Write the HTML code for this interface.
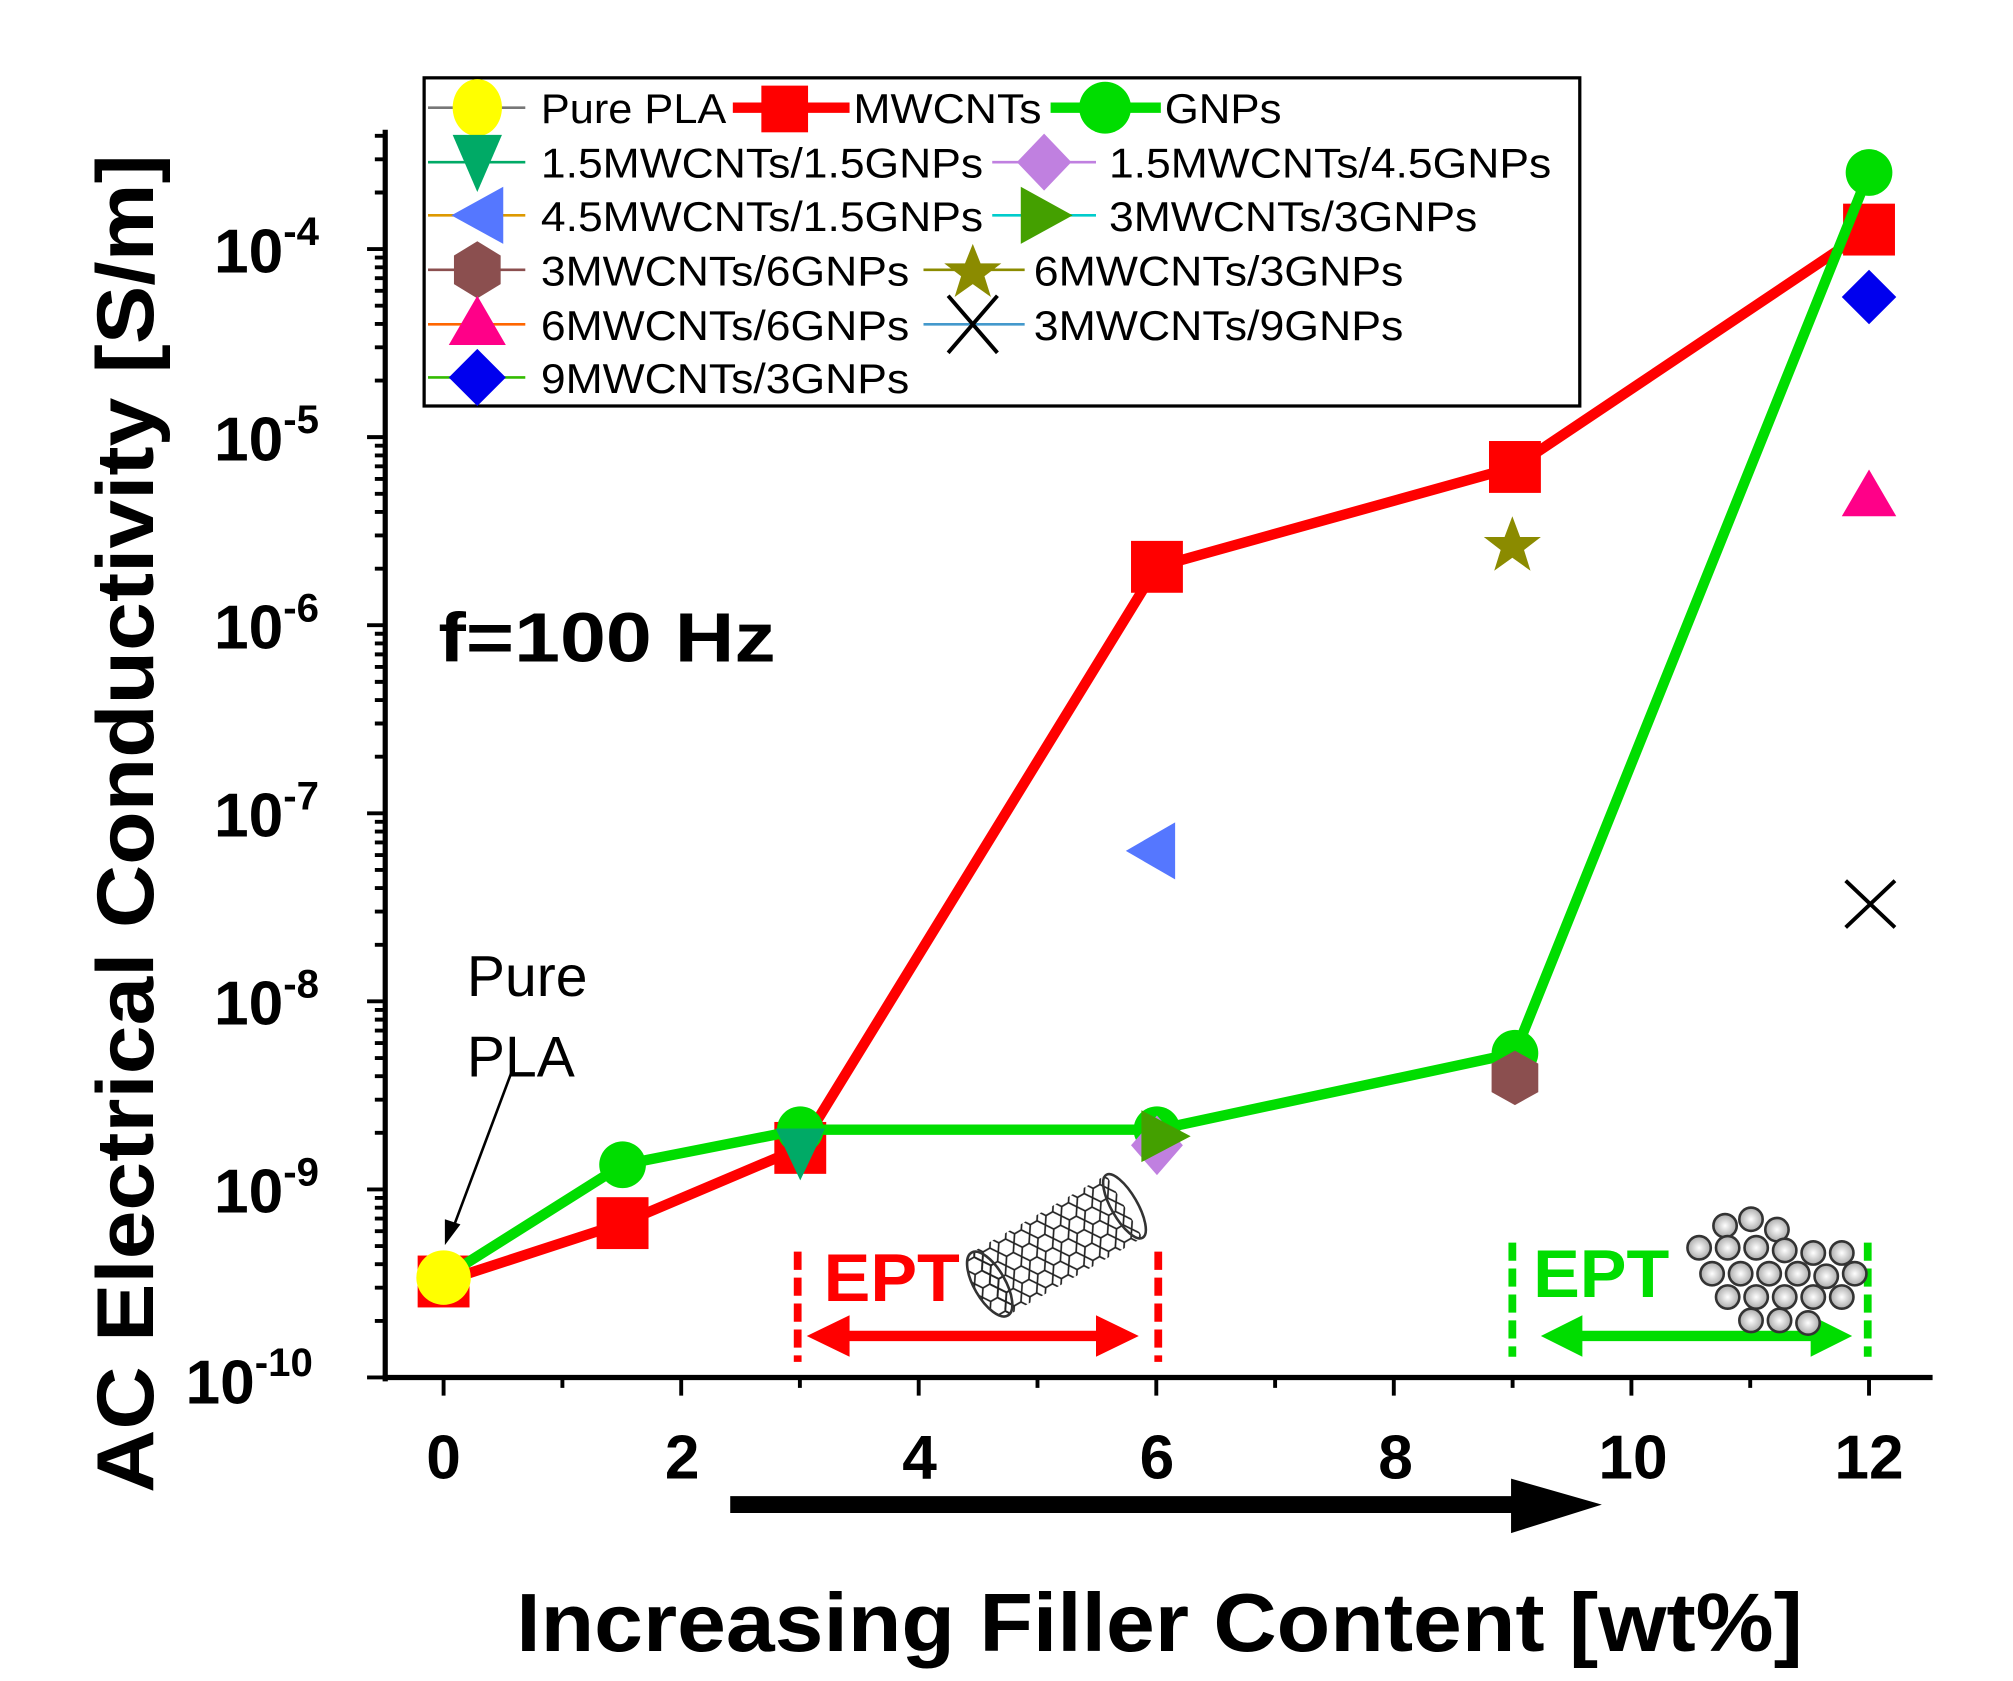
<!DOCTYPE html>
<html><head><meta charset="utf-8"><style>html,body{margin:0;padding:0;background:#fff}svg{display:block}</style></head>
<body>
<svg width="2013" height="1681" viewBox="0 0 1552 1296" xmlns="http://www.w3.org/2000/svg" font-family="Liberation Sans, Arial, sans-serif">
<defs>
<pattern id="hex" width="14" height="12" patternUnits="userSpaceOnUse">
<path d="M0 6 L4 0 L10 0 L14 6 L10 12 L4 12 Z" fill="none" stroke="#222" stroke-width="1.3"/>
</pattern>
<radialGradient id="gb"><stop offset="0" stop-color="#fff"/><stop offset="1" stop-color="#aaa"/></radialGradient>
</defs>
<!-- axes -->
<line x1="297" y1="100" x2="297" y2="1065" stroke="#000" stroke-width="4"/>
<line x1="295" y1="1062" x2="1490" y2="1062" stroke="#000" stroke-width="4"/>
<path stroke="#000" stroke-width="3" fill="none" d="
M283 1062H297 M289 1018.4H297 M289 992.8H297 M289 974.7H297 M289 960.7H297 M289 949.2H297 M289 939.5H297 M289 931.1H297 M289 923.6H297
M283 917H297 M289 873.4H297 M289 847.8H297 M289 829.7H297 M289 815.7H297 M289 804.2H297 M289 794.5H297 M289 786.1H297 M289 778.6H297
M283 772H297 M289 728.4H297 M289 702.8H297 M289 684.7H297 M289 670.7H297 M289 659.2H297 M289 649.5H297 M289 641.1H297 M289 633.6H297
M283 627H297 M289 583.4H297 M289 557.8H297 M289 539.7H297 M289 525.7H297 M289 514.2H297 M289 504.5H297 M289 496.1H297 M289 488.6H297
M283 482H297 M289 438.4H297 M289 412.8H297 M289 394.7H297 M289 380.7H297 M289 369.2H297 M289 359.5H297 M289 351.1H297 M289 343.6H297
M283 337H297 M289 293.4H297 M289 267.8H297 M289 249.7H297 M289 235.7H297 M289 224.2H297 M289 214.5H297 M289 206.1H297 M289 198.6H297
M283 192H297 M289 148.4H297 M289 122.8H297 M289 104.7H297
M342 1062V1076 M433.6 1062V1070 M525.2 1062V1076 M616.7 1062V1070 M708.3 1062V1076 M799.9 1062V1070 M891.5 1062V1076
M983.1 1062V1070 M1074.6 1062V1076 M1166.2 1062V1070 M1257.8 1062V1076 M1349.4 1062V1070 M1441 1062V1076"/>
<!-- y tick labels -->
<g font-weight="bold" fill="#000">
<text x="165" y="210" font-size="48">10<tspan font-size="31" dy="-21">-4</tspan></text>
<text x="165" y="355" font-size="48">10<tspan font-size="31" dy="-21">-5</tspan></text>
<text x="165" y="500" font-size="48">10<tspan font-size="31" dy="-21">-6</tspan></text>
<text x="165" y="645" font-size="48">10<tspan font-size="31" dy="-21">-7</tspan></text>
<text x="165" y="790" font-size="48">10<tspan font-size="31" dy="-21">-8</tspan></text>
<text x="165" y="935" font-size="48">10<tspan font-size="31" dy="-21">-9</tspan></text>
<text x="143" y="1082" font-size="48">10<tspan font-size="31" dy="-21">-10</tspan></text>
</g>
<g font-weight="bold" font-size="48" text-anchor="middle">
<text x="342" y="1140">0</text><text x="526" y="1140">2</text><text x="709" y="1140">4</text>
<text x="892" y="1140">6</text><text x="1076" y="1140">8</text><text x="1259" y="1140">10</text><text x="1441" y="1140">12</text>
</g>
<text transform="translate(118,635) rotate(-90)" text-anchor="middle" font-weight="bold" font-size="62" textLength="1032" lengthAdjust="spacingAndGlyphs">AC Electrical Conductivity [S/m]</text>
<text x="398" y="1273" font-weight="bold" font-size="64" textLength="992" lengthAdjust="spacingAndGlyphs">Increasing Filler Content [wt%]</text>
<!-- big arrow -->
<line x1="563" y1="1160" x2="1175" y2="1160" stroke="#000" stroke-width="13"/>
<polygon points="1165,1140 1235,1160 1165,1182" fill="#000"/>
<text x="338" y="510" font-weight="bold" font-size="54" textLength="260" lengthAdjust="spacingAndGlyphs">f=100 Hz</text>
<text x="360" y="768" font-size="44">Pure</text><text x="360" y="830" font-size="44">PLA</text>
<line x1="395" y1="825" x2="350" y2="945" stroke="#000" stroke-width="2"/>
<polygon points="343,960 343,940 355,944" fill="#000"/>
<!-- EPT red -->
<g stroke="#f00" stroke-width="6" stroke-dasharray="14,6">
<line x1="615" y1="965" x2="615" y2="1050"/><line x1="893" y1="965" x2="893" y2="1050"/></g>
<text x="635" y="1003" fill="#f00" font-weight="bold" font-size="52" textLength="105" lengthAdjust="spacingAndGlyphs">EPT</text>
<line x1="640" y1="1030" x2="860" y2="1030" stroke="#f00" stroke-width="8"/>
<polygon points="622,1030 655,1014 655,1046" fill="#f00"/><polygon points="878,1030 845,1014 845,1046" fill="#f00"/>
<!-- nanotube -->
<g transform="translate(815,960) rotate(-30)">
<rect x="-60" y="-28" width="120" height="56" fill="url(#hex)"/>
<ellipse cx="60" cy="0" rx="10" ry="28" fill="none" stroke="#333" stroke-width="2"/>
<ellipse cx="-60" cy="0" rx="12" ry="28" fill="url(#hex)" stroke="#333" stroke-width="2"/>
</g>
<!-- EPT green -->
<g stroke="#00dd00" stroke-width="6" stroke-dasharray="14,6">
<line x1="1166" y1="958" x2="1166" y2="1046"/><line x1="1440" y1="958" x2="1440" y2="1046"/></g>
<text x="1182" y="1000" fill="#00dd00" font-weight="bold" font-size="52" textLength="105" lengthAdjust="spacingAndGlyphs">EPT</text>
<line x1="1205" y1="1030" x2="1410" y2="1030" stroke="#00dd00" stroke-width="8"/>
<polygon points="1188,1030 1220,1014 1220,1046" fill="#00dd00"/><polygon points="1428,1030 1396,1014 1396,1046" fill="#00dd00"/>
<!-- graphene -->
<g fill="url(#gb)" stroke="#333" stroke-width="2">
<circle cx="1330" cy="945" r="9"/><circle cx="1350" cy="940" r="9"/><circle cx="1370" cy="948" r="9"/>
<circle cx="1310" cy="962" r="9"/><circle cx="1332" cy="962" r="9"/><circle cx="1354" cy="962" r="9"/><circle cx="1376" cy="964" r="9"/><circle cx="1398" cy="966" r="9"/><circle cx="1420" cy="966" r="9"/>
<circle cx="1320" cy="982" r="9"/><circle cx="1342" cy="982" r="9"/><circle cx="1364" cy="982" r="9"/><circle cx="1386" cy="982" r="9"/><circle cx="1408" cy="984" r="9"/><circle cx="1430" cy="982" r="9"/>
<circle cx="1332" cy="1000" r="9"/><circle cx="1354" cy="1000" r="9"/><circle cx="1376" cy="1000" r="9"/><circle cx="1398" cy="1000" r="9"/><circle cx="1420" cy="1000" r="9"/>
<circle cx="1350" cy="1018" r="9"/><circle cx="1372" cy="1018" r="9"/><circle cx="1394" cy="1020" r="9"/>
</g>
<!-- series lines -->
<polyline points="342,988 480,943 617,885 892,437 1168,360 1441,177" fill="none" stroke="#f00" stroke-width="8" stroke-linejoin="round"/>
<g fill="#f00">
<rect x="322" y="968" width="40" height="40"/><rect x="460" y="923" width="40" height="40"/><rect x="597" y="865" width="40" height="40"/>
<rect x="872" y="417" width="40" height="40"/><rect x="1148" y="340" width="40" height="40"/><rect x="1421" y="157" width="40" height="40"/></g>
<polyline points="342,985 480,898 617,871 892,871 1168,812 1441,133" fill="none" stroke="#00dd00" stroke-width="8" stroke-linejoin="round"/>
<g fill="#00dd00">
<circle cx="480" cy="898" r="18"/><circle cx="617" cy="871" r="18"/><circle cx="892" cy="871" r="18"/><circle cx="1168" cy="812" r="18"/><circle cx="1441" cy="133" r="18"/></g>
<circle cx="342" cy="985" r="21" fill="#ffff00"/>
<polygon points="598,870 636,870 617,910" fill="#00aa66"/>
<polygon points="892,860 912,883 892,906 872,883" fill="#c080e0"/>
<polygon points="868,656 906,634 906,678" fill="#5577ff"/>
<polygon points="880,856 918,876 880,896" fill="#44a000"/>
<polygon points="1168,810 1186,820 1186,842 1168,852 1150,842 1150,820" fill="#8b4f4f"/>
<polygon points="1166,398 1172,414 1188,414 1175,424 1180,440 1166,430 1152,440 1157,424 1144,414 1160,414" fill="#8b8b00"/>
<polygon points="1441,362 1462,398 1420,398" fill="#ff0088"/>
<path d="M1423,679 L1461,715 M1461,679 L1423,715" stroke="#000" stroke-width="3"/>
<polygon points="1441,208 1462,229 1441,250 1420,229" fill="#0000ee"/>
<!-- legend -->
<rect x="327" y="60" width="891" height="253" fill="#fff" stroke="#000" stroke-width="2.5"/>
<g font-size="32" lengthAdjust="spacingAndGlyphs">
<line x1="330" y1="83" x2="405" y2="83" stroke="#777" stroke-width="2"/><ellipse cx="368" cy="83" rx="19" ry="22" fill="#ffff00"/>
<text x="417" y="95" textLength="143" lengthAdjust="spacingAndGlyphs">Pure PLA</text>
<line x1="565" y1="83" x2="655" y2="83" stroke="#f00" stroke-width="8"/><rect x="587" y="66" width="36" height="36" fill="#f00"/>
<text x="658" y="95" textLength="145" lengthAdjust="spacingAndGlyphs">MWCNTs</text>
<line x1="810" y1="83" x2="895" y2="83" stroke="#00dd00" stroke-width="8"/><circle cx="852" cy="83" r="20" fill="#00dd00"/>
<text x="898" y="95" textLength="90" lengthAdjust="spacingAndGlyphs">GNPs</text>

<line x1="330" y1="125" x2="405" y2="125" stroke="#00aa66" stroke-width="2"/><polygon points="349,104 387,104 368,148" fill="#00aa66"/>
<text x="417" y="137" textLength="341" lengthAdjust="spacingAndGlyphs">1.5MWCNTs/1.5GNPs</text>
<line x1="765" y1="125" x2="845" y2="125" stroke="#c080e0" stroke-width="2"/><polygon points="805,103 826,125 805,147 784,125" fill="#c080e0"/>
<text x="855" y="137" textLength="341" lengthAdjust="spacingAndGlyphs">1.5MWCNTs/4.5GNPs</text>

<line x1="330" y1="166" x2="405" y2="166" stroke="#dd9900" stroke-width="2"/><polygon points="348,166 388,144 388,188" fill="#5577ff"/>
<text x="417" y="178" textLength="341" lengthAdjust="spacingAndGlyphs">4.5MWCNTs/1.5GNPs</text>
<line x1="765" y1="166" x2="845" y2="166" stroke="#00cccc" stroke-width="2"/><polygon points="787,144 827,166 787,188" fill="#44a000"/>
<text x="855" y="178" textLength="284" lengthAdjust="spacingAndGlyphs">3MWCNTs/3GNPs</text>

<line x1="330" y1="208" x2="405" y2="208" stroke="#8b4f4f" stroke-width="2"/><polygon points="368,186 386,197 386,219 368,230 350,219 350,197" fill="#8b4f4f"/>
<text x="417" y="220" textLength="284" lengthAdjust="spacingAndGlyphs">3MWCNTs/6GNPs</text>
<line x1="712" y1="208" x2="790" y2="208" stroke="#8b8b00" stroke-width="2"/><polygon points="750,188 756,203 772,203 759,213 764,229 750,219 736,229 741,213 728,203 744,203" fill="#8b8b00"/>
<text x="797" y="220" textLength="285" lengthAdjust="spacingAndGlyphs">6MWCNTs/3GNPs</text>

<line x1="330" y1="250" x2="405" y2="250" stroke="#ff6600" stroke-width="2"/><polygon points="368,228 390,266 346,266" fill="#ff0088"/>
<text x="417" y="262" textLength="284" lengthAdjust="spacingAndGlyphs">6MWCNTs/6GNPs</text>
<line x1="712" y1="250" x2="790" y2="250" stroke="#4499cc" stroke-width="2"/><path d="M731,228 L769,272 M769,228 L731,272" stroke="#000" stroke-width="3"/>
<text x="797" y="262" textLength="285" lengthAdjust="spacingAndGlyphs">3MWCNTs/9GNPs</text>

<line x1="330" y1="291" x2="405" y2="291" stroke="#33bb00" stroke-width="2"/><polygon points="368,269 390,291 368,313 346,291" fill="#0000ee"/>
<text x="417" y="303" textLength="284" lengthAdjust="spacingAndGlyphs">9MWCNTs/3GNPs</text>
</g>
</svg>
</body></html>
